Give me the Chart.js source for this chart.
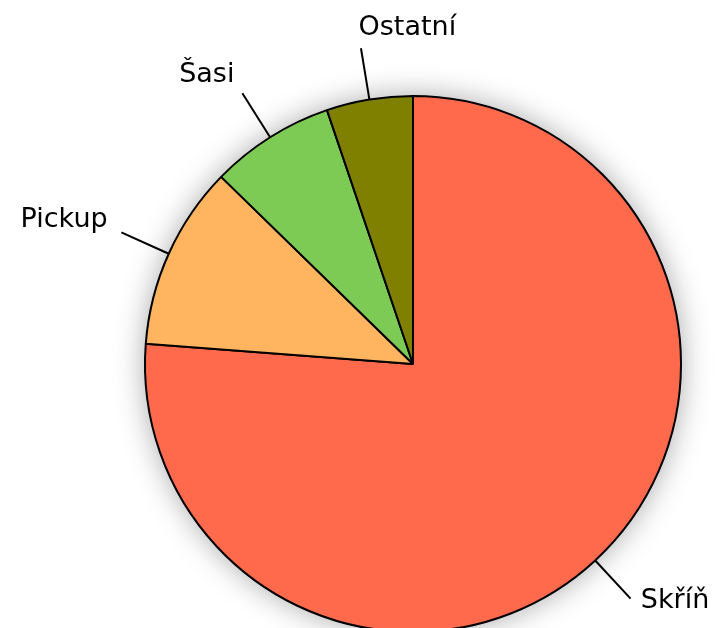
<!DOCTYPE html>
<html>
<head>
<meta charset="utf-8">
<script src="https://cdn.jsdelivr.net/npm/chart.js@4.4.1/dist/chart.umd.min.js"></script>
<style>
  html, body { margin: 0; padding: 0; background: #fff; overflow: hidden; }
  #wrap { width: 715px; height: 700px; }
</style>
</head>
<body>
<div id="wrap"><canvas id="pie" width="715" height="700"></canvas></div>
<script>
'use strict'

// values (share of the whole, in %)
const categories = ['Skříň', 'Pickup', 'Šasi', 'Ostatní'];
const shares = [76.2, 11.1, 7.5, 5.2];
const sliceColors = ['#ff6a4d', '#ffb55f', '#7dcb55', '#808000'];

/* soft shadow under the pie */
const pieShadow = {
  id: 'pieShadow',
  beforeDatasetsDraw(chart) {
    const arc = chart.getDatasetMeta(0).data[0];
    if (!arc) return;
    const ctx = chart.ctx;
    ctx.save();
    ctx.shadowColor = 'rgba(0,0,0,0.35)';
    ctx.shadowBlur = 30;
    ctx.fillStyle = '#fff';
    ctx.beginPath();
    ctx.arc(arc.x, arc.y, arc.outerRadius, 0, Math.PI * 2);
    ctx.fill();
    ctx.restore();
  }
};

/* outside labels with leader lines */
const outsideLabels = {
  id: 'outsideLabels',
  afterDatasetsDraw(chart) {
    const ctx = chart.ctx;
    const meta = chart.getDatasetMeta(0);
    ctx.save();
    ctx.font = '27px "DejaVu Sans", Verdana, sans-serif';
    ctx.fillStyle = '#000';
    ctx.strokeStyle = '#000';
    ctx.lineWidth = 2;
    meta.data.forEach(function(arc, i){
      const mid = (arc.startAngle + arc.endAngle) / 2;
      const dx = Math.cos(mid), dy = Math.sin(mid);
      const r0 = arc.outerRadius, r1 = arc.outerRadius + 52;
      const ex = arc.x + dx * r1, ey = arc.y + dy * r1;
      ctx.beginPath();
      ctx.moveTo(arc.x + dx * r0, arc.y + dy * r0);
      ctx.lineTo(ex, ey);
      ctx.stroke();
      ctx.textAlign = dx > -0.3 ? 'left' : 'right';
      ctx.textBaseline = 'alphabetic';
      ctx.fillText(chart.data.labels[i], ex + 15 * dx, ey + 13.4 * dy);
    });
    ctx.restore();
  }
};

const ctx = document.getElementById('pie').getContext('2d');

const chart = new Chart(ctx, {
  type: 'pie',
  data: {
    labels: categories,
    datasets: [{
      data: shares,
      backgroundColor: sliceColors,
      borderColor: '#000',
      borderWidth: 2
    }]
  },
  options: {
    responsive: false,
    animation: false,
    radius: 268,
    layout: { padding: { left: 145, top: 96, right: 34, bottom: 68 } },
    plugins: {
      legend: { display: false },
      tooltip: { enabled: false }
    }
  },
  plugins: [pieShadow, outsideLabels]
});
</script>
</body>
</html>
